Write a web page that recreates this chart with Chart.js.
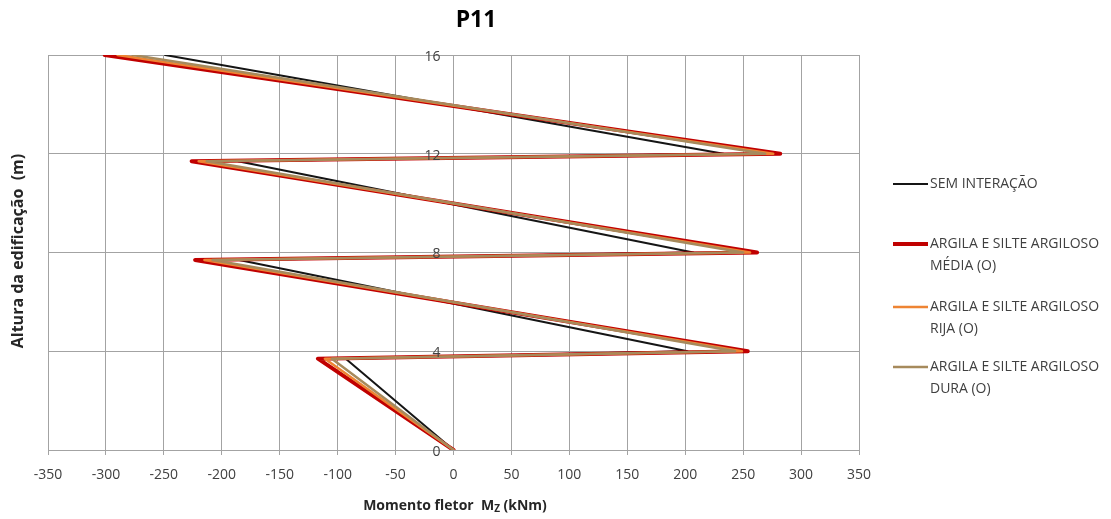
<!DOCTYPE html>
<html lang="pt">
<head>
<meta charset="UTF-8">
<title>P11</title>
<script src="https://cdn.jsdelivr.net/npm/chart.js"></script>
<style>
  html, body { margin: 0; padding: 0; background: #fff; }
  #wrap { width: 1111px; height: 519px; position: relative; }
</style>
</head>
<body>
<div id="wrap"><canvas id="myChart"></canvas></div>
<script>
// altura da edificação (m) de cada ponto do diagrama
const alturas = [0, 3.7, 4, 7.7, 8, 11.7, 12, 16];

// momento fletor Mz (kNm) em cada altura
const semInteracao = [0, -93, 202, -185, 207, -186, 233, -249];
const argilaMedia  = [0, -117, 254, -223, 262, -226, 282, -301];
const argilaRija   = [0, -111, 249, -215, 256, -220, 276, -290];
const argilaDura   = [0, -105, 243, -208, 250, -213, 269, -277];

const xTicks = { min: -350, max: 350, step: 50 };
const yTicks = { min: 0, max: 16, step: 4 };

const nomes = [
    ['SEM INTERAÇÃO'],
    ['ARGILA E SILTE ARGILOSO', 'MÉDIA (O)'],
    ['ARGILA E SILTE ARGILOSO', 'RIJA (O)'],
    ['ARGILA E SILTE ARGILOSO', 'DURA (O)']
];
const cores = ['#151515', '#c00000', '#ee8433', '#a68a5c'];
const espessuras = [2, 4, 2.5, 2.5];

const FONTE = "'Open Sans', 'DejaVu Sans', sans-serif";

function pontos(momentos) {
    return alturas.map((h, i) => ({ x: momentos[i], y: h }));
}

const series = [semInteracao, argilaMedia, argilaRija, argilaDura];

const datasets = series.map((s, i) => ({
    label: nomes[i].join(' '),
    data: pontos(s),
    borderColor: cores[i],
    backgroundColor: cores[i],
    borderWidth: espessuras[i],
    borderJoinStyle: 'round',
    borderCapStyle: 'round',
    showLine: true,
    pointRadius: 0,
    tension: 0,
    order: series.length - i
}));

// titulo, rotulos do eixo y, titulos dos eixos e legenda desenhados no canvas
const textos = {
    id: 'textos',
    afterDraw(chart) {
        const ctx = chart.ctx;
        const sx = chart.scales.x;
        const sy = chart.scales.y;
        ctx.save();
        ctx.fillStyle = '#000';
        ctx.textAlign = 'center';
        ctx.textBaseline = 'middle';
        ctx.font = 'bold 23px ' + FONTE;
        ctx.fillText('P11', 476, 20);

        // rotulos do eixo y, ao lado do eixo vertical em x = 0
        ctx.fillStyle = '#404040';
        ctx.font = '14px ' + FONTE;
        ctx.textAlign = 'right';
        const xEixo = sx.getPixelForValue(0);
        sy.ticks.forEach(t => {
            ctx.fillText(t.label, xEixo - 13, sy.getPixelForValue(t.value) + 2);
        });

        // eixo x com subscrito
        ctx.fillStyle = '#262626';
        const parte1 = 'Momento fletor  M';
        const parte3 = ' (kNm)';
        ctx.font = 'bold 14px ' + FONTE;
        const w1 = ctx.measureText(parte1).width;
        const w3 = ctx.measureText(parte3).width;
        ctx.font = 'bold 10px ' + FONTE;
        const w2 = ctx.measureText('Z').width;
        let x0 = 455 - (w1 + w2 + w3) / 2;
        ctx.textAlign = 'left';
        ctx.font = 'bold 14px ' + FONTE;
        ctx.fillText(parte1, x0, 506);
        ctx.font = 'bold 10px ' + FONTE;
        ctx.fillText('Z', x0 + w1, 509);
        ctx.font = 'bold 14px ' + FONTE;
        ctx.fillText(parte3, x0 + w1 + w2, 506);

        // eixo y
        ctx.save();
        ctx.translate(18, 251);
        ctx.rotate(-Math.PI / 2);
        ctx.textAlign = 'center';
        ctx.font = 'bold 16px ' + FONTE;
        ctx.fillText('Altura da edificação  (m)', 0, 0);
        ctx.restore();

        // legenda
        const linhasY = [184, 244, 307, 367];
        ctx.font = '14px ' + FONTE;
        ctx.textAlign = 'left';
        chart.data.datasets.forEach((ds, i) => {
            const y = linhasY[i];
            ctx.strokeStyle = ds.borderColor;
            ctx.lineWidth = ds.borderWidth;
            ctx.beginPath();
            ctx.moveTo(893, y);
            ctx.lineTo(928, y);
            ctx.stroke();
            ctx.fillStyle = '#404040';
            nomes[i].forEach((t, k) => ctx.fillText(t, 930, y + k * 22));
        });
        ctx.restore();
    }
};

new Chart(document.getElementById('myChart'), {
    type: 'scatter',
    data: { datasets },
    options: {
        responsive: true,
        maintainAspectRatio: false,
        animation: false,
        layout: { padding: { left: 48, right: 252, top: 55, bottom: 0 } },
        plugins: {
            legend: { display: false },
            tooltip: { enabled: false }
        },
        scales: {
            x: {
                type: 'linear',
                min: xTicks.min,
                max: xTicks.max,
                ticks: { stepSize: xTicks.step, padding: 12, color: '#404040', font: { family: FONTE, size: 14 } },
                grid: { color: '#a3a3a3', tickLength: 5 },
                border: { color: '#a3a3a3' },
                afterFit: s => { s.height = 69; }
            },
            y: {
                type: 'linear',
                min: yTicks.min,
                max: yTicks.max,
                position: { x: 0 },
                ticks: { stepSize: yTicks.step, display: false },
                grid: { color: '#a3a3a3', drawTicks: false },
                border: { color: '#a3a3a3' }
            }
        }
    },
    plugins: [textos]
});
</script>
</body>
</html>
